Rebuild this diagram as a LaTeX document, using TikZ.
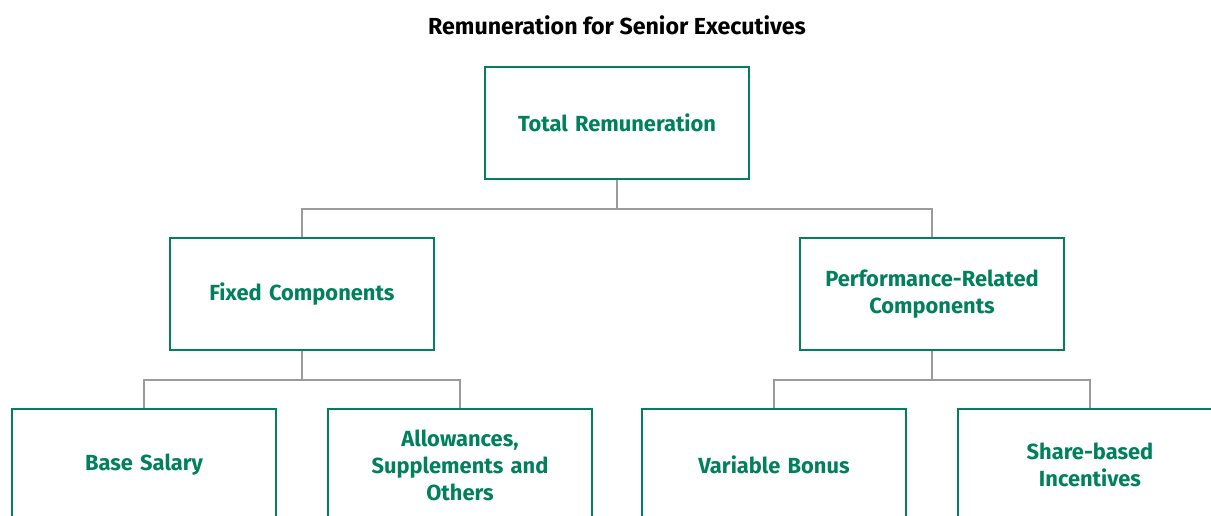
\documentclass[tikz,border=0pt]{standalone}
\usepackage{fontspec}
\setmainfont{Fira Sans}
\usetikzlibrary{positioning}
\definecolor{boxgreen}{RGB}{0,128,92}
\definecolor{linkgray}{RGB}{155,155,155}

\begin{document}
\begin{tikzpicture}[x=0.75pt,y=-0.75pt,
    part/.style={draw=boxgreen,line width=1.9pt,text=boxgreen,font=\fontsize{16.4}{20.2}\selectfont\bfseries,
      minimum width=198pt,minimum height=84pt,text width=180pt,align=center,inner sep=0pt},
    link/.style={draw=linkgray,line width=1.9pt}]
          \clip (0,0) rectangle (1211,516);
          \node[font=\fontsize{17.4}{20}\selectfont\bfseries] (title) at (617,25) {Remuneration for Senior Executives};
          \node[part] (total) at (617,123) {Total Remuneration};
          \node[part] (fixed) at (302,294) {Fixed Components};
          \node[part] (perf) at (932,294) {Performance-Related\\Components};
          \node[part] (base) at (144,465) {Base Salary};
          \node[part] (allow) at (460,465) {Allowances,\\Supplements and\\Others};
          \node[part] (bonus) at (774,465) {Variable Bonus};
          \node[part] (share) at (1090,465) {Share-based\\Incentives};
          % joints where the tree branches
          \coordinate (j0) at (617,209);
          \coordinate (j1) at (302,380);
          \coordinate (j2) at (932,380);
          \draw[link] (total.south) -- (j0) -| (fixed.north);
          \draw[link] (j0) -| (perf.north);
          \draw[link] (fixed.south) -- (j1) -| (base.north);
          \draw[link] (j1) -| (allow.north);
          \draw[link] (perf.south) -- (j2) -| (bonus.north);
          \draw[link] (j2) -| (share.north);
        \end{tikzpicture}
\end{document}
